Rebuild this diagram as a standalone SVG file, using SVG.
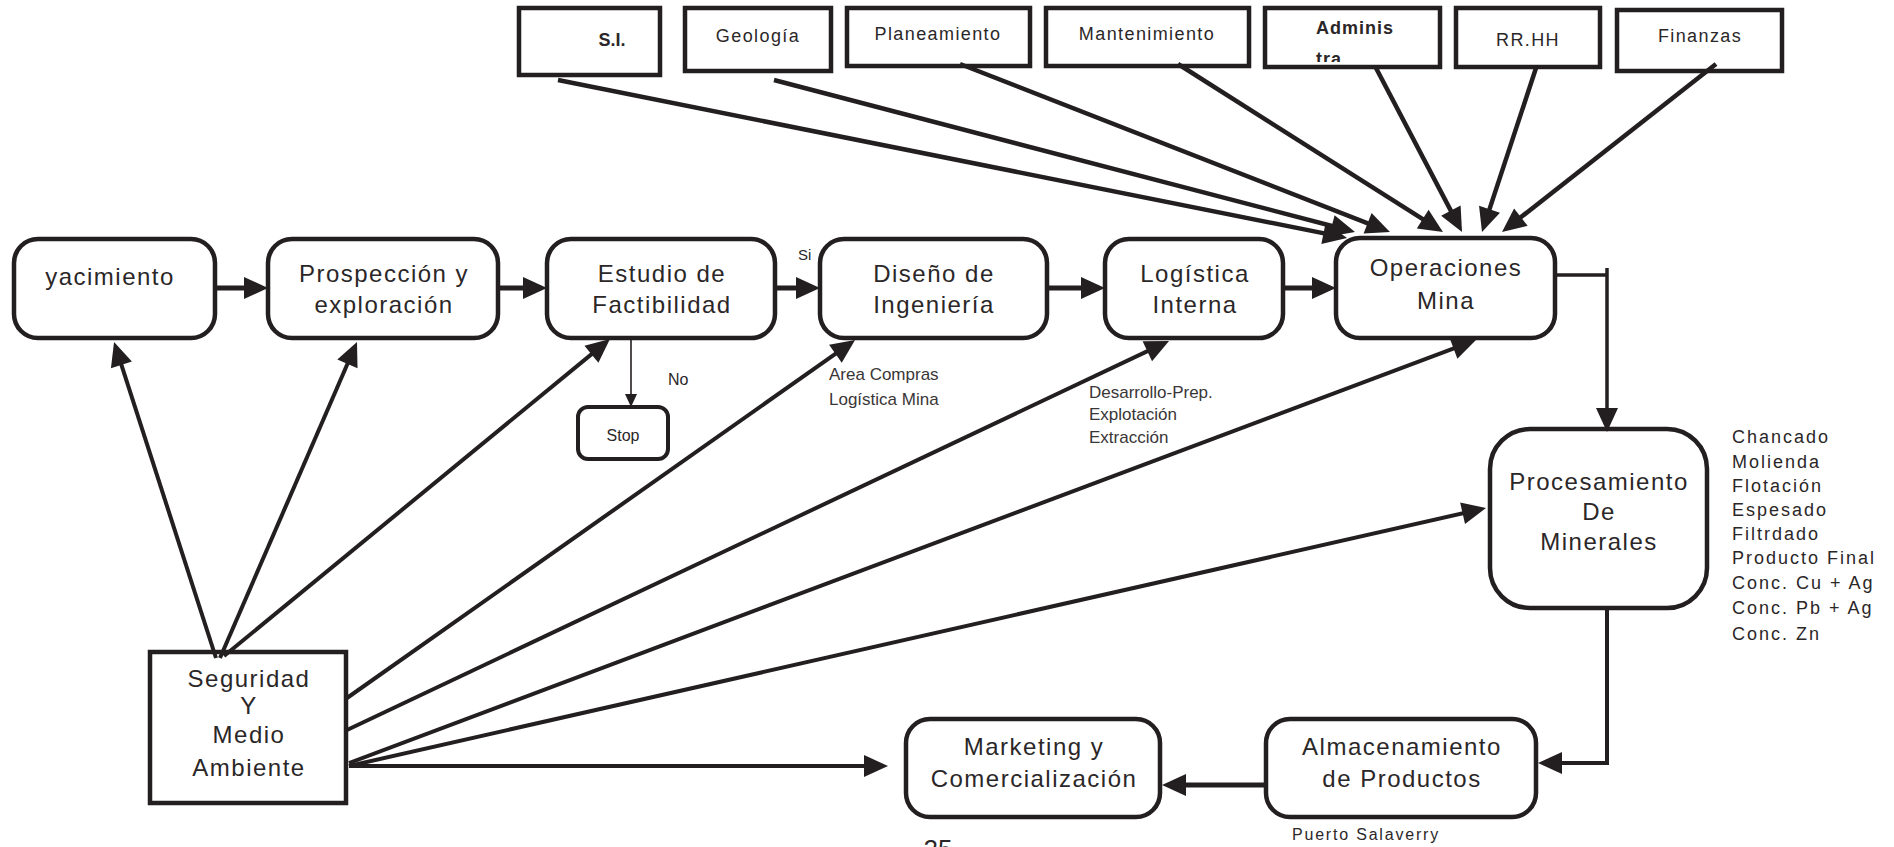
<svg xmlns="http://www.w3.org/2000/svg" width="1894" height="847" viewBox="0 0 1894 847">
  <defs>
    <style>
      .box { fill: #ffffff; stroke: #231f20; stroke-width: 4.5; }
      .sq { fill: #ffffff; stroke: #231f20; stroke-width: 4.5; }
      text { font-family: "Liberation Sans", Arial, sans-serif; fill: #2b2728; }
      .main { font-size: 24px; letter-spacing: 1.5px; text-anchor: middle; }
      .dept { font-size: 18px; letter-spacing: 1.4px; text-anchor: middle; }
      .note { font-size: 17px; fill: #3a3637; }
      .list { font-size: 18px; letter-spacing: 2px; }
      .conn { fill: none; stroke: #231f20; stroke-width: 4; marker-end: url(#ah); }
      .thick { stroke-width: 5; }
      .dep { stroke-width: 4.5; }
      .thin { fill: none; stroke: #231f20; stroke-width: 1.6; marker-end: url(#ahs); }
      .plain { fill: none; stroke: #231f20; stroke-width: 4; }
    </style>
    <marker id="ah" markerUnits="userSpaceOnUse" markerWidth="26" markerHeight="24" refX="16" refY="11" orient="auto" overflow="visible">
      <path d="M0,0 L24,11 L0,22 Z" fill="#231f20"/>
    </marker>
    <marker id="ahs" markerUnits="userSpaceOnUse" markerWidth="14" markerHeight="14" refX="8" refY="6" orient="auto" overflow="visible">
      <path d="M0,0 L13,6 L0,12 Z" fill="#231f20"/>
    </marker>
    <clipPath id="admClip">
      <rect x="1267" y="10" width="170" height="52"/>
    </clipPath>
  </defs>

  <rect width="1894" height="847" fill="#ffffff"/>

  <!-- support departments -->
  <g id="si">
    <rect class="sq" x="519" y="8" width="141" height="67"/>
    <text x="612" y="46" style="font-size:18px;font-weight:bold;text-anchor:middle">S.I.</text>
  </g>
  <g id="geologia">
    <rect class="sq" x="685" y="8" width="146" height="63"/>
    <text class="dept" x="758" y="42">Geología</text>
  </g>
  <g id="planeamiento">
    <rect class="sq" x="847" y="8" width="183" height="58"/>
    <text class="dept" x="938" y="40">Planeamiento</text>
  </g>
  <g id="mantenimiento">
    <rect class="sq" x="1046" y="8" width="203" height="58"/>
    <text class="dept" x="1147" y="40">Mantenimiento</text>
  </g>
  <g id="administracion">
    <rect class="sq" x="1265" y="8" width="175" height="59"/>
    <g clip-path="url(#admClip)">
      <text x="1316" y="34" style="font-size:18px;font-weight:bold;letter-spacing:1px">Adminis</text>
      <text x="1316" y="65" style="font-size:18px;font-weight:bold;letter-spacing:1px">tra</text>
    </g>
  </g>
  <g id="rrhh">
    <rect class="sq" x="1456" y="8" width="144" height="59"/>
    <text class="dept" x="1528" y="46">RR.HH</text>
  </g>
  <g id="finanzas">
    <rect class="sq" x="1617" y="10" width="165" height="61"/>
    <text class="dept" x="1700" y="42">Finanzas</text>
  </g>

  <!-- main process chain -->
  <g id="yacimiento">
    <rect class="box" x="14" y="239" width="201" height="99" rx="24"/>
    <text class="main" x="110" y="285">yacimiento</text>
  </g>
  <g id="prospeccion">
    <rect class="box" x="268" y="239" width="230" height="99" rx="24"/>
    <text class="main" x="384" y="282">Prospección y</text>
    <text class="main" x="384" y="313">exploración</text>
  </g>
  <g id="factibilidad">
    <rect class="box" x="547" y="239" width="228" height="99" rx="24"/>
    <text class="main" x="662" y="282">Estudio de</text>
    <text class="main" x="662" y="313">Factibilidad</text>
  </g>
  <g id="stop">
    <rect class="box" x="578" y="407" width="90" height="52" rx="10" style="stroke-width:4"/>
    <text x="623" y="441" style="font-size:16px;text-anchor:middle">Stop</text>
  </g>
  <g id="diseno">
    <rect class="box" x="820" y="239" width="227" height="99" rx="24"/>
    <text class="main" x="934" y="282">Diseño de</text>
    <text class="main" x="934" y="313">Ingeniería</text>
  </g>
  <g id="logistica">
    <rect class="box" x="1105" y="239" width="178" height="99" rx="24"/>
    <text class="main" x="1195" y="282">Logística</text>
    <text class="main" x="1195" y="313">Interna</text>
  </g>
  <g id="operaciones">
    <rect class="box" x="1336" y="238" width="219" height="100" rx="24"/>
    <text class="main" x="1446" y="276">Operaciones</text>
    <text class="main" x="1446" y="309">Mina</text>
  </g>
  <g id="procesamiento">
    <rect class="box" x="1490" y="429" width="217" height="179" rx="40"/>
    <text class="main" x="1599" y="490">Procesamiento</text>
    <text class="main" x="1599" y="520">De</text>
    <text class="main" x="1599" y="550">Minerales</text>
  </g>
  <g id="almacenamiento">
    <rect class="box" x="1266" y="719" width="270" height="98" rx="24"/>
    <text class="main" x="1402" y="755">Almacenamiento</text>
    <text class="main" x="1402" y="787">de Productos</text>
  </g>
  <g id="marketing">
    <rect class="box" x="906" y="719" width="254" height="98" rx="24"/>
    <text class="main" x="1034" y="755">Marketing y</text>
    <text class="main" x="1034" y="787">Comercialización</text>
  </g>
  <g id="seguridad">
    <rect class="sq" x="150" y="652" width="196" height="151"/>
    <text class="main" x="249" y="687">Seguridad</text>
    <text class="main" x="249" y="714">Y</text>
    <text class="main" x="249" y="743">Medio</text>
    <text class="main" x="249" y="776">Ambiente</text>
  </g>

  <!-- annotations -->
  <g id="notes">
    <text x="798" y="260" style="font-size:15px">Si</text>
    <text x="668" y="385" style="font-size:16px">No</text>
    <text class="note" x="829" y="380">Area Compras</text>
    <text class="note" x="829" y="405">Logística Mina</text>
    <text class="note" x="1089" y="398">Desarrollo-Prep.</text>
    <text class="note" x="1089" y="420">Explotación</text>
    <text class="note" x="1089" y="443">Extracción</text>
    <text class="list" x="1732" y="443">Chancado</text>
    <text class="list" x="1732" y="468">Molienda</text>
    <text class="list" x="1732" y="492">Flotación</text>
    <text class="list" x="1732" y="516">Espesado</text>
    <text class="list" x="1732" y="540">Filtrdado</text>
    <text class="list" x="1732" y="564">Producto Final</text>
    <text class="list" x="1732" y="589">Conc. Cu + Ag</text>
    <text class="list" x="1732" y="614">Conc. Pb + Ag</text>
    <text class="list" x="1732" y="640">Conc. Zn</text>
    <text x="1292" y="840" style="font-size:16px;letter-spacing:1.8px">Puerto  Salaverry</text>
    <text x="938" y="858" style="font-size:26px;text-anchor:middle">25</text>
  </g>

  <!-- connectors -->
  <g id="connectors">
    <!-- main chain -->
    <path class="conn thick" d="M217,288 H260"/>
    <path class="conn thick" d="M498,288 H539"/>
    <path class="conn thick" d="M775,288 H812"/>
    <path class="conn thick" d="M1047,288 H1097"/>
    <path class="conn thick" d="M1283,288 H1328"/>
    <path class="thin" d="M631,340 V402"/>

    <!-- departments into Operaciones Mina -->
    <path class="conn dep" d="M558,80 L1339.2,236.4"/>
    <path class="conn dep" d="M774,80 L1347.3,230"/>
    <path class="conn dep" d="M960,64 L1382.5,229.1"/>
    <path class="conn dep" d="M1178,64 L1436.2,227.7"/>
    <path class="conn dep" d="M1376,68 L1458.3,224.9"/>
    <path class="conn dep" d="M1536,68 L1484.5,224.4"/>
    <path class="conn dep" d="M1716,64 L1508.3,227.1"/>

    <!-- Operaciones to Procesamiento to Almacenamiento to Marketing -->
    <path class="plain" style="stroke-width:3.5" d="M1555,275 H1607"/>
    <path class="conn" style="stroke-width:3.5" d="M1607,268 V424"/>
    <path class="conn" d="M1607,608 V763 H1546"/>
    <path class="conn thick" d="M1266,785 H1170"/>

    <!-- Seguridad y Medio Ambiente -->
    <path class="conn" d="M216,658 L116.5,349.6"/>
    <path class="conn" d="M220,658 L353.8,349.3"/>
    <path class="conn" d="M224,656 L603.8,344.1"/>
    <path class="conn" d="M347,698 L848.5,344.6"/>
    <path class="conn" d="M347,730 L1161.8,344.4"/>
    <path class="conn" d="M349,763 L1468.5,342.8"/>
    <path class="conn" d="M349,766 L1478.2,509.8"/>
    <path class="conn" d="M349,766 L880,766"/>
  </g>
</svg>
